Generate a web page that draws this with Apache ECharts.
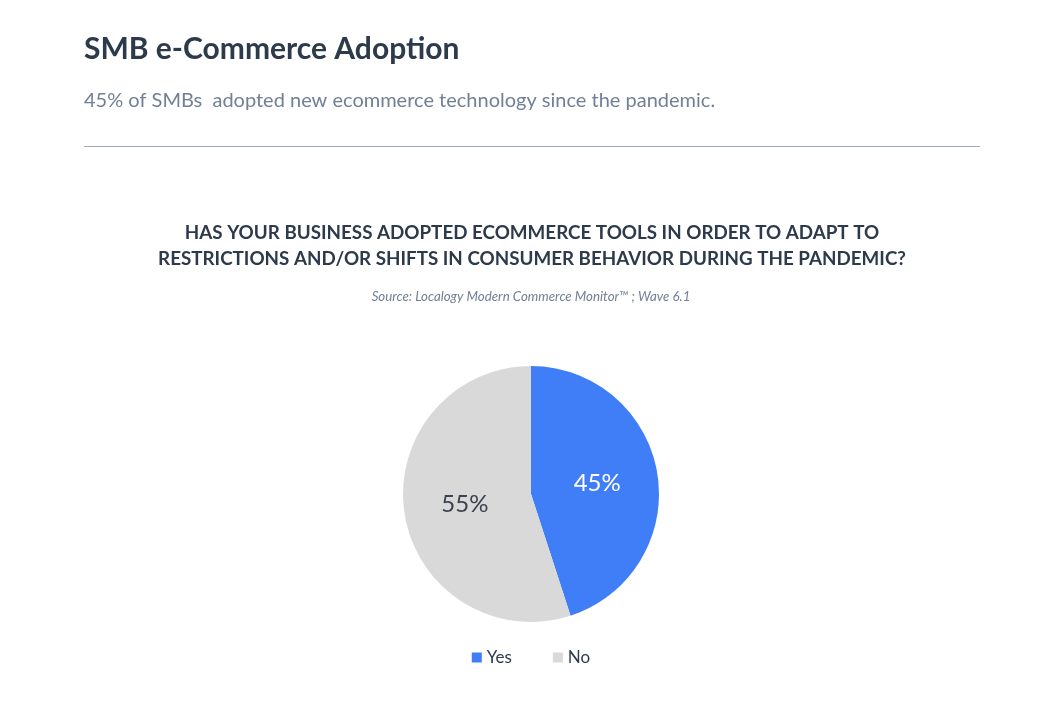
<!DOCTYPE html>
<html>
<head>
<meta charset="utf-8">
<title>SMB e-Commerce Adoption</title>
<script src="https://cdn.jsdelivr.net/npm/echarts@6/dist/echarts.min.js"></script>
<style>
  html, body { margin: 0; padding: 0; background: #fff; }
  #chart { width: 1062px; height: 710px; }
</style>
</head>
<body>
<div id="chart"></div>
<script>
// data
const categories = ['Yes', 'No']
const shares = [45, 55]
const sliceColors = ['#3f7ef7', '#d9d9d9']

const FONT = 'Lato'
const dark = '#2d3a4b'
const grey = '#718096'

const chart = echarts.init(document.getElementById('chart'))

const option = {
  animation: false,
  backgroundColor: '#fff',
  textStyle: { fontFamily: FONT },
  title: [
    {
      text: 'SMB e-Commerce Adoption',
      left: 84, top: 34, padding: 0,
      textStyle: { fontFamily: FONT, fontSize: 30, fontWeight: 'bold', color: dark }
    },
    {
      text: '45% of SMBs  adopted new ecommerce technology since the pandemic.',
      left: 84, top: 91, padding: 0,
      textStyle: { fontFamily: FONT, fontSize: 20, fontWeight: 'normal', color: grey }
    }
  ],
  graphic: [
    {
      type: 'line',
      shape: { x1: 84, y1: 146.5, x2: 980, y2: 146.5 },
      style: { stroke: '#a0aabb', lineWidth: 1 }
    },
    {
      // chart question, two centred lines
      type: 'text',
      x: 532, y: 220,
      style: {
        text: 'HAS YOUR BUSINESS ADOPTED ECOMMERCE TOOLS IN ORDER TO ADAPT TO\nRESTRICTIONS AND/OR SHIFTS IN CONSUMER BEHAVIOR DURING THE PANDEMIC?',
        align: 'center',
        verticalAlign: 'top',
        font: 'bold 18.8px ' + FONT,
        lineHeight: 26,
        fill: dark
      }
    },
    {
      type: 'text',
      x: 531, y: 297,
      style: {
        text: 'Source: Localogy Modern Commerce Monitor™ ; Wave 6.1',
        align: 'center',
        verticalAlign: 'middle',
        font: 'italic 13.3px ' + FONT,
        fill: grey
      }
    }
  ],
  legend: {
    data: categories,
    bottom: 39,
    left: 'center',
    icon: 'rect',
    itemWidth: 10,
    itemHeight: 10,
    itemGap: 41,
    textStyle: { fontFamily: FONT, fontSize: 17, color: dark }
  },
  series: [
    {
      type: 'pie',
      center: [531, 494],
      radius: 128,
      startAngle: 90,
      clockwise: true,
      label: {
        show: true,
        position: 'inside',
        formatter: '{c}%',
        fontFamily: FONT,
        fontSize: 24
      },
      labelLine: { show: false },
      emphasis: { disabled: true },
      data: categories.map((name, i) => ({
        name: name,
        value: shares[i],
        itemStyle: { color: sliceColors[i] },
        label: { color: i === 0 ? '#fff' : '#3a4350' }
      }))
    }
  ]
}

chart.setOption(option)
</script>
</body>
</html>
